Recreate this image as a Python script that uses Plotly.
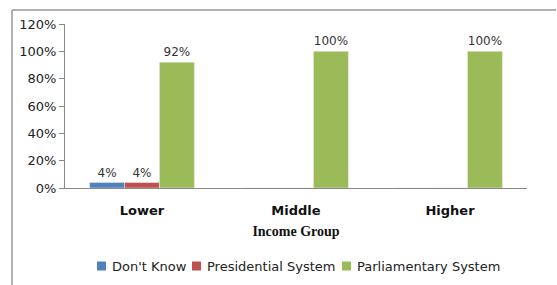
import plotly.graph_objects as go

categories = ["Lower", "Middle", "Higher"]
dont_know = [4, 0, 0]
presidential = [4, 0, 0]
parliamentary = [92, 100, 100]
series_names = ["Don't Know", "Presidential System", "Parliamentary System"]
colors = ["#4F81BD", "#C0504D", "#9BBB59"]
y_ticks = [0, 20, 40, 60, 80, 100, 120]

fig = go.Figure()
for name, vals, col in zip(series_names, [dont_know, presidential, parliamentary], colors):
    fig.add_trace(go.Bar(
        x=categories, y=vals, name=name, marker_color=col,
        text=[f"{v}%" if v > 0 else "" for v in vals],
        textposition="outside", cliponaxis=False,
        textfont=dict(family="DejaVu Sans", size=12, color="#333333"),
        showlegend=False,
    ))

# pixel helpers (plot area: x 65..527, y 24..188)
L, R, T, B = 65, 30, 24, 97
W, H = 557 - L - R, 285 - T - B
def px(x):
    return (x - L) / W
def py(y):
    return (285 - B - y) / H

shapes = [
    dict(type="line", xref="paper", yref="paper", x0=px(12), x1=px(556), y0=py(10), y1=py(10),
         line=dict(color="#999999", width=1.5)),
    dict(type="line", xref="paper", yref="paper", x0=px(12), x1=px(12), y0=py(10), y1=py(290),
         line=dict(color="#999999", width=1.5)),
]
annotations = []
# legend: square left px and text left px
legend_pos = [(97, 110), (192, 205), (342, 355)]
for name, col, (sx, tx) in zip(series_names, colors, legend_pos):
    shapes.append(dict(type="rect", xref="paper", yref="paper",
                       x0=px(sx), x1=px(sx + 9), y0=py(270.5), y1=py(261.5),
                       fillcolor=col, line=dict(width=0)))
    annotations.append(dict(text=name, xref="paper", yref="paper", x=px(tx), y=py(266),
                            xanchor="left", yanchor="middle", showarrow=False,
                            font=dict(family="DejaVu Sans", size=13, color="#222222")))

fig.update_layout(
    width=557, height=285,
    margin=dict(l=L, r=R, t=T, b=B, autoexpand=False),
    paper_bgcolor="white", plot_bgcolor="white",
    barmode="group", bargap=0.32, bargroupgap=0,
    font=dict(family="DejaVu Sans", size=13, color="#222222"),
    showlegend=False,
    shapes=shapes, annotations=annotations,
)
fig.update_yaxes(
    range=[0, 120], tickvals=y_ticks, ticktext=[f"{v}%" for v in y_ticks],
    showgrid=False, zeroline=False, showline=True, linecolor="#888888", linewidth=1,
    ticks="outside", ticklen=5, tickcolor="#888888", automargin=False,
    tickfont=dict(family="DejaVu Sans", size=13, color="#222222"),
)
fig.update_xaxes(
    showgrid=False, showline=True, linecolor="#888888", linewidth=1, ticks="",
    automargin=False,
    tickfont=dict(family="DejaVu Sans", size=13, color="#111111", weight="bold"),
    ticklabelstandoff=10,
    title=dict(text="<b>Income Group</b>", standoff=9,
               font=dict(family="Liberation Serif", size=14, color="#111111")),
)

fig.write_html("out.html", config={"displayModeBar": False},
               post_script="document.body.style.margin='0';document.body.style.overflow='hidden';")
